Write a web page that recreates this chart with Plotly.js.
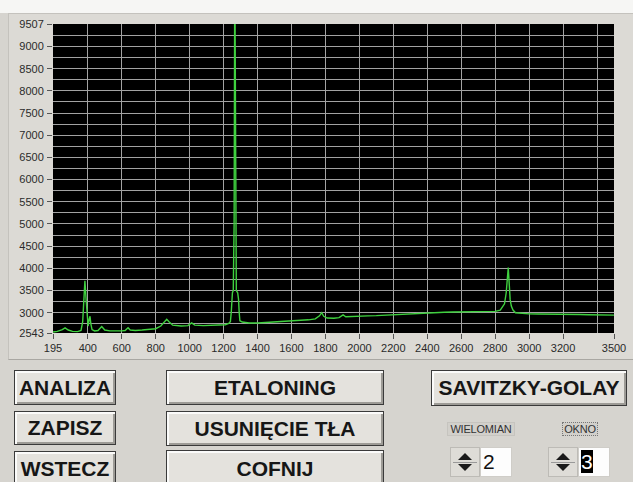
<!DOCTYPE html>
<html>
<head>
<meta charset="utf-8">
<script src="https://cdn.plot.ly/plotly-3.0.1.min.js"></script>
<style>
  html, body { margin: 0; padding: 0; }
  body { width: 633px; height: 482px; position: relative; overflow: hidden; background: #d6d4cf; font-family: "Liberation Sans", Arial, sans-serif; }
  #top { position: absolute; left: 0; top: 0; width: 633px; height: 13px; background: #f6f6f4; }
  #panel { position: absolute; left: 8px; top: 13px; width: 630px; height: 347px; background: #dcdad5; border-top: 1px solid #c4c2bd; border-left: 1px solid #c4c2bd; border-bottom: 1px solid #a9a7a2; box-sizing: border-box; }
  #chart { position: absolute; left: 0; top: 0; width: 633px; height: 482px; }
  .btn { position: absolute; box-sizing: border-box; background: #e4e2dd; border: 1px solid #3a3a3a;
         box-shadow: inset 2px 2px 0 #fbfbfa, inset -2px -2px 0 #9d9b96;
         font-weight: bold; font-size: 21px; color: #161616; text-align: center; white-space: nowrap; }
  .lbl { position: absolute; box-sizing: border-box; font-size: 11px; color: #333; text-align: center; background: #d2d0cb; border: 1px solid #c6c4bf; line-height: 12px; letter-spacing: -0.2px; }
  .spin { position: absolute; box-sizing: border-box; width: 30px; height: 30px; background: #dedcd7; border: 1px solid #bdbbb6; }
  .spin .up, .spin .dn { position: absolute; left: 7px; width: 0; height: 0; border-left: 7px solid transparent; border-right: 7px solid transparent; }
  .spin .up { top: 5px; border-bottom: 7px solid #1a1a1a; }
  .spin .dn { top: 16px; border-top: 7px solid #1a1a1a; }
  .spin .mid { position: absolute; left: 2px; right: 2px; top: 14px; height: 1px; background: #999; }
  .box { position: absolute; box-sizing: border-box; width: 32px; height: 30px; background: #fdfdfd; border: 1px solid #cfcdc8; font-size: 21px; line-height: 28px; padding-left: 2px; color: #111; }
</style>
</head>
<body>
<div id="top"></div>
<div id="panel"></div>
<div id="chart"></div>

<div class="btn" style="left:14px;top:370px;width:102px;height:35px;line-height:33px;">ANALIZA</div>
<div class="btn" style="left:14px;top:411px;width:102px;height:34px;line-height:32px;">ZAPISZ</div>
<div class="btn" style="left:14px;top:451px;width:102px;height:36px;line-height:34px;">WSTECZ</div>
<div class="btn" style="left:166px;top:370px;width:218px;height:35px;line-height:33px;">ETALONING</div>
<div class="btn" style="left:166px;top:411px;width:218px;height:35px;line-height:33px;">USUNIĘCIE TŁA</div>
<div class="btn" style="left:166px;top:450px;width:218px;height:37px;line-height:35px;">COFNIJ</div>
<div class="btn" style="left:431px;top:370px;width:196px;height:36px;line-height:34px;">SAVITZKY-GOLAY</div>

<div class="lbl" style="left:447px;top:422px;width:68px;height:14px;">WIELOMIAN</div>
<div class="lbl" style="left:562px;top:422px;width:36px;height:14px;border:1px dotted #777;">OKNO</div>

<div class="spin" style="left:450px;top:447px;"><div class="up"></div><div class="mid"></div><div class="dn"></div></div>
<div class="box" style="left:480px;top:447px;">2</div>
<div class="spin" style="left:548px;top:447px;"><div class="up"></div><div class="mid"></div><div class="dn"></div></div>
<div class="box" style="left:578px;top:447px;"><span style="background:#000;color:#fff;">3</span></div>

<script>
// Raman shift (x) and intensity (y)
const shift = [195,220,250,266,285,310,340,360,370,376,383,390,396,402,408,413,418,425,440,460,482,500,530,560,600,620,637,650,680,720,760,800,830,850,865,880,900,950,990,1012,1030,1080,1130,1180,1210,1230,1240,1245,1248,1252,1257,1262,1266,1270,1275,1283,1288,1292,1296,1310,1350,1400,1450,1500,1550,1600,1650,1700,1740,1765,1778,1790,1810,1850,1880,1904,1920,1960,2000,2050,2100,2150,2200,2250,2300,2350,2400,2450,2500,2550,2600,2650,2700,2750,2800,2830,2845,2855,2865,2872,2877,2882,2888,2895,2905,2920,2950,3000,3050,3100,3150,3200,3250,3300,3350,3400,3450,3500];
const intensity = [2565,2580,2620,2660,2610,2580,2575,2600,2800,3300,3720,3300,2900,2700,2850,2920,2750,2620,2590,2600,2690,2610,2590,2585,2590,2600,2660,2610,2600,2610,2620,2640,2700,2790,2850,2790,2720,2700,2710,2770,2720,2710,2715,2720,2730,2760,2800,3000,3300,3450,3500,5000,11000,5500,3500,3450,3300,3000,2820,2790,2770,2770,2780,2790,2800,2815,2825,2840,2860,2930,3000,2920,2880,2875,2890,2950,2910,2920,2925,2930,2935,2945,2950,2965,2980,2995,3000,3005,3010,3015,3020,3020,3020,3025,3030,3060,3130,3200,3450,3800,4020,3700,3300,3150,3060,3000,2985,2975,2970,2970,2972,2970,2965,2960,2955,2955,2950,2945];

const xTickVals = [195,400,600,800,1000,1200,1400,1600,1800,2000,2200,2400,2600,2800,3000,3200,3500];
const xTickText = ["195","400","600","800","1000","1200","1400","1600","1800","2000","2200","2400","2600","2800","3000","3200","3500"];
const yTickVals = [2543,3000,3500,4000,4500,5000,5500,6000,6500,7000,7500,8000,8500,9000,9507];
const yTickText = ["2543","3000","3500","4000","4500","5000","5500","6000","6500","7000","7500","8000","8500","9000","9507"];

const gridColor = "#a3a3a3";
const tickFont = {family: "Liberation Sans, Arial, sans-serif", size: 11, color: "#2a2a2a"};

Plotly.newPlot("chart", [{
  x: shift, y: intensity, type: "scatter", mode: "lines",
  line: {color: "#3fd13f", width: 1.4}, hoverinfo: "skip"
}], {
  width: 633, height: 482,
  margin: {l: 53, r: 19, t: 24, b: 149, pad: 0},
  paper_bgcolor: "rgba(0,0,0,0)", plot_bgcolor: "#000000",
  showlegend: false,
  xaxis: {
    range: [195, 3500], tickmode: "array", tickvals: xTickVals, ticktext: xTickText,
    ticks: "outside", ticklen: 5, tickcolor: "#555", tickwidth: 1,
    showgrid: true, gridcolor: gridColor, gridwidth: 1,
    minor: {tickmode: "linear", tick0: 0, dtick: 200, showgrid: true, gridcolor: gridColor, gridwidth: 1, ticks: ""},
    zeroline: false, showline: false, tickfont: tickFont, fixedrange: true
  },
  yaxis: {
    range: [2543, 9507], tickmode: "array", tickvals: yTickVals, ticktext: yTickText,
    ticks: "outside", ticklen: 5, tickcolor: "#555", tickwidth: 1, ticklabelstandoff: 1,
    showgrid: true, gridcolor: gridColor, gridwidth: 1,
    minor: {tickmode: "linear", tick0: 0, dtick: 250, showgrid: true, gridcolor: gridColor, gridwidth: 1, ticks: ""},
    zeroline: false, showline: false, tickfont: tickFont, fixedrange: true
  }
}, {staticPlot: true, displayModeBar: false});
</script>
</body>
</html>
